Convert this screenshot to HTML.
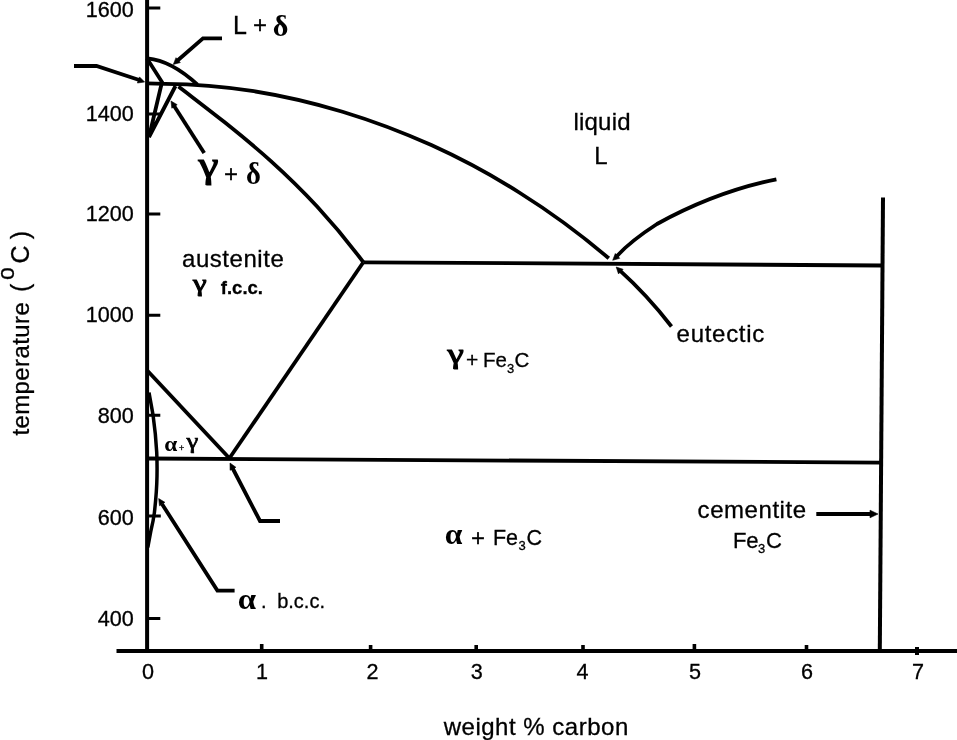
<!DOCTYPE html>
<html lang="en">
<head>
<meta charset="utf-8">
<title>Iron–carbon phase diagram</title>
<style>
html,body{margin:0;padding:0;background:#fff;}
body{width:957px;height:740px;overflow:hidden;}
svg{display:block;}
text{font-family:"Liberation Sans",sans-serif;fill:#000;stroke:#000;stroke-width:0.3;}
.g{font-family:"Liberation Serif",serif;}
.b{font-weight:bold;}
.ln{stroke:#000;fill:none;stroke-width:3.8;}
.ax{stroke:#000;fill:none;stroke-width:4;}
.tk{stroke:#000;fill:none;stroke-width:3;}
.tx{stroke:#000;fill:none;stroke-width:3.6;}
.ar{stroke:#000;fill:none;stroke-width:3.8;}
.hd{fill:#000;stroke:#000;stroke-width:0.6;stroke-linejoin:miter;}
</style>
</head>
<body>
<svg width="957" height="740" viewBox="0 0 957 740">
<rect width="957" height="740" fill="#fff"/>

<!-- axes -->
<g id="axes">
<path class="ax" d="M147.1 0V651"/>
<path class="ax" d="M116.5 650.9H957"/>
<path class="ax" d="M883 197.6L879.8 651"/>
</g>

<!-- ticks -->
<g id="ticks">
<path class="tk" d="M147 8H160.3M147 113.9H160.3M147 214H160.3M147 315.3H160.3M147 415.3H160.3M147 515.9H160.8M147 618.5H160.3"/>
<path class="tx" d="M261.7 644V651M370.6 645V651M476.2 645V651M583 645V651M694.4 644V651M806.5 645V651"/>
<path class="ax" d="M917 647V655"/>
</g>

<!-- phase boundaries -->
<g id="lines">
<path class="ln" d="M147 83.4L165 83.8C194.6 83.9 224.2 86.5 253.8 91.2C283.3 95.9 312.9 102.8 342.5 111.7C372.1 120.7 401.7 131.7 431.3 145.1C460.9 158.5 490.5 174.3 520.0 193.0C549.6 211.6 579.2 233.1 608.8 258.3"/>
<path class="ln" d="M147.5 58.3Q171.5 60.6 197.5 84.6"/>
<path class="ln" d="M147 58.5L162 82L149 137L175.5 86"/>
<path class="ln" d="M178.5 86.5C193.9 98.4 209.3 110.1 224.7 122.3C240.1 134.6 255.5 147.3 270.9 161.1C286.3 175.0 301.7 189.9 317.1 206.5C332.5 223.2 347.9 241.5 363.3 262.2"/>
<path class="ln" d="M363.3 262.3L882 265.5"/>
<path class="ln" d="M363.3 262.3L229.4 458.3"/>
<path class="ln" d="M147 370.3L229.4 458.3"/>
<path class="ln" d="M147 458.5L880 462.6"/>
<path class="ln" style="stroke-width:3.5" d="M149 392.5L153.1 415.4C154.6 426 156.2 442 156.7 452C157.1 460 157.1 470 157 476C156.8 488 155.6 502 154.4 512.6C153.3 521 151.8 527 150.9 530.8L147.8 547.5"/>
</g>

<!-- arrows -->
<g id="arrows">
<path class="ar" d="M74 66H96.5L140 80.3"/>
<path class="hd" d="M144.6 82.0L137.4 83.0L139.5 76.9Z"/>
<path class="ar" d="M222 38.3H203L177 61"/>
<path class="hd" d="M173.3 64.4L176.0 57.7L180.3 62.6Z"/>
<path class="ar" d="M204.2 153L173.5 105"/>
<path class="hd" d="M171.0 101.0L177.2 104.7L171.8 108.2Z"/>
<path class="ar" d="M776.4 179.3C734 188 695 203 657 224C640 235 626 246 617 256"/>
<path class="hd" d="M612.7 260.3L615.3 253.5L619.7 258.3Z"/>
<path class="ar" d="M671.5 326.5Q647.3 295.3 619.5 270.2"/>
<path class="hd" d="M616.2 267.0L623.1 269.3L618.5 273.9Z"/>
<path class="ar" d="M280 521H260L232.5 468"/>
<path class="hd" d="M230.0 463.0L235.9 467.3L230.1 470.3Z"/>
<path class="ar" d="M234.6 590.6H217.4L162 504"/>
<path class="hd" d="M158.7 498.6L164.9 502.3L159.5 505.8Z"/>
<path d="M816.3 514H872" stroke="#000" stroke-width="4" fill="none"/>
<path class="hd" d="M878.0 514.0L870.0 517.8L870.0 510.2Z"/>
</g>

<!-- axis numbers -->
<g id="nums" font-size="21.6">
<text x="133.8" y="16.9" text-anchor="end">1600</text>
<text x="133.8" y="120.9" text-anchor="end">1400</text>
<text x="133.8" y="220.7" text-anchor="end">1200</text>
<text x="133.8" y="321.5" text-anchor="end">1000</text>
<text x="133.8" y="422.6" text-anchor="end">800</text>
<text x="133.8" y="524.7" text-anchor="end">600</text>
<text x="133.8" y="625.8" text-anchor="end">400</text>
<text x="148" y="678.5" text-anchor="middle">0</text>
<text x="262" y="678.5" text-anchor="middle">1</text>
<text x="372.5" y="678.5" text-anchor="middle">2</text>
<text x="476.8" y="678.5" text-anchor="middle">3</text>
<text x="582.4" y="678.5" text-anchor="middle">4</text>
<text x="695.1" y="678.5" text-anchor="middle">5</text>
<text x="806.9" y="678.5" text-anchor="middle">6</text>
<text x="917.9" y="678.5" text-anchor="middle">7</text>
</g>

<!-- labels -->
<g id="labels" font-size="25">
<text><tspan style="letter-spacing:0.51px;" x="443.7" y="734.7" font-size="24">weight % carbon</tspan></text>
<text transform="translate(29.2 435.6) rotate(-90)" font-size="24" style="letter-spacing:0.4px">temperature</text>
<text transform="translate(29.2 292) rotate(-90)">(</text>
<text transform="translate(13.7 280) rotate(-90)" font-size="23">o</text>
<text transform="translate(29.2 263.5) rotate(-90)">C</text>
<text transform="translate(29.2 239.2) rotate(-90)">)</text>
<text><tspan style="letter-spacing:0.54px;" x="182.0" y="266.8" font-size="24">austenite</tspan></text>
<text class="g" font-weight="normal" style="stroke-width:0.9;" transform="translate(193.0 290.5) scale(1.380 1)" font-size="22.3">γ</text>
<text><tspan class="b" x="220.8" y="293.8" font-size="18.5">f.c.c.</tspan></text>
<text><tspan style="letter-spacing:0.24px;" x="573.4" y="129.8" font-size="24">liquid</tspan></text>
<text><tspan x="594.3" y="163.6" font-size="24">L</tspan></text>
<text><tspan style="letter-spacing:0.71px;" x="676.6" y="342.3" font-size="24">eutectic</tspan></text>
<text><tspan style="letter-spacing:0.55px;" x="697.6" y="518.4" font-size="24">cementite</tspan></text>
<text><tspan x="732.9" y="547.8" font-size="22">Fe</tspan><tspan x="757.9" y="553.4" font-size="13">3</tspan><tspan x="766" y="547.8" font-size="22">C</tspan></text>
<text class="g" font-weight="normal" style="stroke-width:1.0;" transform="translate(447.4 363.3) scale(1.385 1)" font-size="26.6">γ</text>
<text><tspan x="466.0" y="367.2" font-size="21">+</tspan><tspan x="482.9" y="367" font-size="20.5">Fe</tspan><tspan x="506.9" y="372.6" font-size="13">3</tspan><tspan x="514.4" y="367" font-size="20.5">C</tspan></text>
<text class="g" font-weight="bold" style="stroke-width:0;" transform="translate(444.8 543.9) scale(1.086 1)" font-size="29.2">α</text>
<text><tspan x="471.0" y="545.8" font-size="24">+</tspan><tspan x="492.9" y="544.5" font-size="21.5">Fe</tspan><tspan x="518.5" y="550.2" font-size="13">3</tspan><tspan x="526.5" y="544.5" font-size="21.5">C</tspan></text>
<text><tspan x="233.0" y="34" font-size="25">L</tspan><tspan x="252.9" y="33.0" font-size="24">+</tspan></text>
<text class="g" font-weight="bold" style="stroke-width:0;" transform="translate(272.7 35.6) scale(1.024 1)" font-size="29.5">δ</text>
<text class="g" font-weight="normal" style="stroke-width:1.2;" transform="translate(198.5 177.3) scale(1.263 1)" font-size="35.7">γ</text>
<text><tspan x="224.0" y="181.8" font-size="24">+</tspan></text>
<text class="g" font-weight="bold" style="stroke-width:0;" transform="translate(246.1 183.8) scale(0.927 1)" font-size="30.9">δ</text>
<text class="g" font-weight="bold" style="stroke-width:0;" transform="translate(237.8 608.5) scale(1.081 1)" font-size="30.5">α</text>
<text><tspan x="261.0" y="607.9" font-size="20">.</tspan><tspan x="277.2" y="607.9" font-size="20">b.c.c.</tspan></text>
<text class="g" font-weight="bold" style="stroke-width:0;" transform="translate(164.2 451.0) scale(1.161 1)" font-size="20.2">α</text>
<text><tspan x="179.0" y="451.0" font-size="9">+</tspan></text>
<text class="g" font-weight="normal" style="stroke-width:0.7;" transform="translate(186.4 448.4) scale(1.218 1)" font-size="22.0">γ</text>
</g>
</svg>
</body>
</html>
